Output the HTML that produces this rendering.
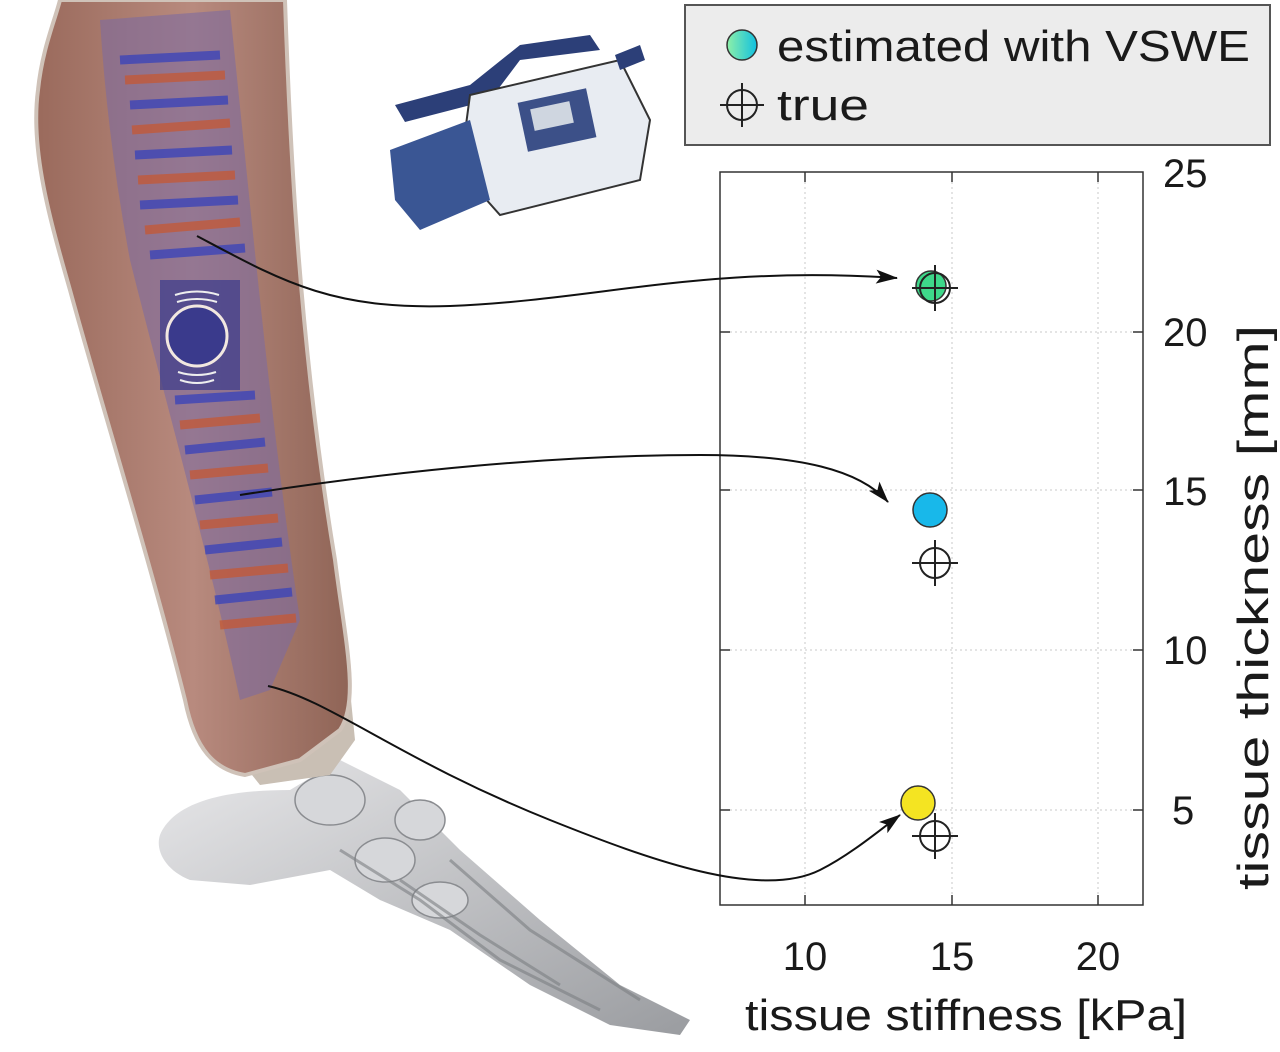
<!DOCTYPE html>
<html><head><meta charset="utf-8"><style>
html,body{margin:0;padding:0;background:#fff;}
svg{display:block;}
text{font-family:"Liberation Sans",sans-serif;fill:#1a1a1a;}
</style></head><body>
<svg width="1280" height="1052" viewBox="0 0 1280 1052" xmlns="http://www.w3.org/2000/svg">
<defs>
<linearGradient id="leg" x1="0" x2="1" y1="0" y2="0">
<stop offset="0" stop-color="#9a6a5c"/><stop offset="0.5" stop-color="#b88a7e"/><stop offset="1" stop-color="#8f6456"/>
</linearGradient>
<linearGradient id="bone" x1="0" x2="1" y1="0" y2="1">
<stop offset="0" stop-color="#e8e8ea"/><stop offset="1" stop-color="#9a9ca0"/>
</linearGradient>
<linearGradient id="leg1" x1="0" x2="1"><stop offset="0" stop-color="#8ef0a8"/><stop offset="1" stop-color="#10c0e0"/></linearGradient>
<marker id="ar" markerWidth="22" markerHeight="14" refX="21" refY="7" orient="auto" markerUnits="userSpaceOnUse">
<path d="M0,0 L22,7 L0,14 L5,7 z" fill="#111"/></marker>
</defs>

<!-- foot bones -->
<path d="M160,835 C175,800 230,790 290,790 L340,760 L400,790 L460,850 L540,920 L620,985 L690,1020 L680,1035 L610,1025 L530,985 L450,930 L380,900 L330,870 L250,885 L190,880 C165,870 155,850 160,835 z" fill="url(#bone)"/>
<g fill="#d6d7da" stroke="#8a8c90" stroke-width="1.5">
<ellipse cx="330" cy="800" rx="35" ry="25"/>
<ellipse cx="385" cy="860" rx="30" ry="22"/>
<ellipse cx="420" cy="820" rx="25" ry="20"/>
<ellipse cx="440" cy="900" rx="28" ry="18"/>
</g>
<path d="M340,850 L420,900 L500,960 L600,1010 M400,880 L480,935 L560,985 M450,860 L530,930 L640,1000" stroke="#7c7e82" stroke-width="3" fill="none" opacity="0.6"/>
<!-- ankle bone -->
<path d="M240,700 L350,690 L355,740 L330,775 L260,785 L240,760 z" fill="#c9bfb4"/>
<!-- leg -->
<path d="M60,0 L285,0 C290,150 300,350 335,560 C345,640 360,700 340,730 L300,760 L245,775 C215,770 195,750 185,700 C150,560 100,400 70,290 C50,220 30,150 38,90 C42,50 55,20 60,0 z" fill="url(#leg)" stroke="#cfc2b8" stroke-width="4"/>
<path d="M100,20 L230,10 C250,200 270,420 300,620 L270,690 L240,700 C210,560 160,380 130,260 C115,180 105,100 100,20 z" fill="#7d6aa0" opacity="0.6"/>
<g stroke-width="9" opacity="0.8">
<line x1="120" y1="60" x2="220" y2="55" stroke="#3d45b8"/>
<line x1="125" y1="80" x2="225" y2="75" stroke="#c25a3a"/>
<line x1="130" y1="105" x2="228" y2="100" stroke="#3d45b8"/>
<line x1="132" y1="130" x2="230" y2="123" stroke="#c25a3a"/>
<line x1="135" y1="155" x2="232" y2="150" stroke="#3d45b8"/>
<line x1="138" y1="180" x2="235" y2="175" stroke="#c25a3a"/>
<line x1="140" y1="205" x2="238" y2="200" stroke="#3d45b8"/>
<line x1="145" y1="230" x2="240" y2="222" stroke="#c25a3a"/>
<line x1="150" y1="255" x2="245" y2="248" stroke="#3d45b8"/>
<line x1="175" y1="400" x2="255" y2="395" stroke="#3d45b8"/>
<line x1="180" y1="425" x2="260" y2="418" stroke="#c25a3a"/>
<line x1="185" y1="450" x2="265" y2="442" stroke="#3d45b8"/>
<line x1="190" y1="475" x2="268" y2="468" stroke="#c25a3a"/>
<line x1="195" y1="500" x2="272" y2="492" stroke="#3d45b8"/>
<line x1="200" y1="525" x2="278" y2="518" stroke="#c25a3a"/>
<line x1="205" y1="550" x2="282" y2="542" stroke="#3d45b8"/>
<line x1="210" y1="575" x2="288" y2="568" stroke="#c25a3a"/>
<line x1="215" y1="600" x2="292" y2="592" stroke="#3d45b8"/>
<line x1="220" y1="625" x2="296" y2="618" stroke="#c25a3a"/>
</g>
<rect x="160" y="280" width="80" height="110" fill="#3a3a8c" opacity="0.7"/>
<circle cx="197" cy="336" r="30" fill="#3a3a8c" stroke="#f2e8e0" stroke-width="3"/>
<path d="M175,295 Q197,288 219,295 M177,302 Q197,296 217,302 M178,372 Q197,378 216,372 M180,380 Q197,386 214,380" stroke="#eee" stroke-width="2" fill="none"/>

<!-- camera -->
<g>
<path d="M395,105 L470,85 L520,45 L590,35 L600,50 L520,60 L490,100 L405,122 z" fill="#2c3f78"/>
<path d="M470,95 L620,60 L650,120 L640,180 L500,215 L460,170 z" fill="#e8ecf2" stroke="#333" stroke-width="2"/>
<path d="M390,150 L470,120 L490,200 L420,230 L395,200 z" fill="#3a5694"/>
<rect x="522" y="95" width="70" height="50" fill="#3c5088" transform="rotate(-12 557 120)"/>
<rect x="532" y="105" width="40" height="22" fill="#cfd6e0" transform="rotate(-12 552 116)"/>
<path d="M615,55 L640,45 L645,60 L620,70 z" fill="#2c3f78"/>
</g>

<!-- legend -->
<rect x="685" y="5" width="585" height="140" fill="#ececec" stroke="#555" stroke-width="2"/>
<circle cx="742" cy="45" r="15" fill="url(#leg1)" stroke="#333" stroke-width="1.5"/>
<text x="777" y="61" font-size="44" textLength="473" lengthAdjust="spacingAndGlyphs">estimated with VSWE</text>
<circle cx="742" cy="105" r="15" fill="none" stroke="#222" stroke-width="2"/>
<line x1="742" y1="83" x2="742" y2="127" stroke="#222" stroke-width="2"/>
<line x1="720" y1="105" x2="764" y2="105" stroke="#222" stroke-width="2"/>
<text x="777" y="120" font-size="44" textLength="92" lengthAdjust="spacingAndGlyphs">true</text>

<!-- plot -->
<g stroke="#c8c8c8" stroke-width="1" stroke-dasharray="2,3">
<line x1="805" y1="172" x2="805" y2="905"/><line x1="952" y1="172" x2="952" y2="905"/><line x1="1098" y1="172" x2="1098" y2="905"/>
<line x1="720" y1="332" x2="1143" y2="332"/><line x1="720" y1="490" x2="1143" y2="490"/><line x1="720" y1="650" x2="1143" y2="650"/><line x1="720" y1="810" x2="1143" y2="810"/>
</g>
<rect x="720" y="172" width="423" height="733" fill="none" stroke="#333" stroke-width="1.5"/>
<g stroke="#333" stroke-width="1.5">
<line x1="1143" y1="332" x2="1133" y2="332"/><line x1="1143" y1="490" x2="1133" y2="490"/><line x1="1143" y1="650" x2="1133" y2="650"/><line x1="1143" y1="810" x2="1133" y2="810"/>
<line x1="720" y1="332" x2="730" y2="332"/><line x1="720" y1="490" x2="730" y2="490"/><line x1="720" y1="650" x2="730" y2="650"/><line x1="720" y1="810" x2="730" y2="810"/>
<line x1="805" y1="905" x2="805" y2="895"/><line x1="952" y1="905" x2="952" y2="895"/><line x1="1098" y1="905" x2="1098" y2="895"/>
<line x1="805" y1="172" x2="805" y2="182"/><line x1="952" y1="172" x2="952" y2="182"/><line x1="1098" y1="172" x2="1098" y2="182"/>
</g>
<g font-size="40">
<text x="1163" y="187">25</text><text x="1163" y="346">20</text><text x="1163" y="505">15</text><text x="1163" y="664">10</text><text x="1172" y="824">5</text>
<text x="805" y="970" text-anchor="middle">10</text><text x="952" y="970" text-anchor="middle">15</text><text x="1098" y="970" text-anchor="middle">20</text>
</g>
<text x="745" y="1030" font-size="44" textLength="442" lengthAdjust="spacingAndGlyphs">tissue stiffness [kPa]</text>
<text transform="translate(1268,890) rotate(-90)" font-size="44" textLength="565" lengthAdjust="spacingAndGlyphs">tissue thickness [mm]</text>

<!-- points -->
<circle cx="931" cy="286" r="15" fill="#3ed88a" stroke="#333" stroke-width="1.5"/>
<circle cx="930" cy="510" r="17" fill="#18b8ea" stroke="#333" stroke-width="1.5"/>
<circle cx="918" cy="803" r="17" fill="#f4e422" stroke="#333" stroke-width="1.5"/>
<g stroke="#222" stroke-width="2" fill="none">
<circle cx="935" cy="288" r="15"/><line x1="935" y1="265" x2="935" y2="311"/><line x1="912" y1="288" x2="958" y2="288"/>
<circle cx="935" cy="563" r="15"/><line x1="935" y1="540" x2="935" y2="586"/><line x1="912" y1="563" x2="958" y2="563"/>
<circle cx="935" cy="836" r="15"/><line x1="935" y1="813" x2="935" y2="859"/><line x1="912" y1="836" x2="958" y2="836"/>
</g>

<!-- connectors -->
<g stroke="#111" stroke-width="2" fill="none">
<path d="M197,236 C280,280 330,310 450,306 C600,300 700,265 897,278" marker-end="url(#ar)"/>
<path d="M240,495 C400,470 560,455 700,455 C800,455 860,470 888,502" marker-end="url(#ar)"/>
<path d="M268,686 C330,700 400,760 550,820 C650,860 760,900 820,870 C850,855 880,830 900,815" marker-end="url(#ar)"/>
</g>
</svg>
</body></html>
